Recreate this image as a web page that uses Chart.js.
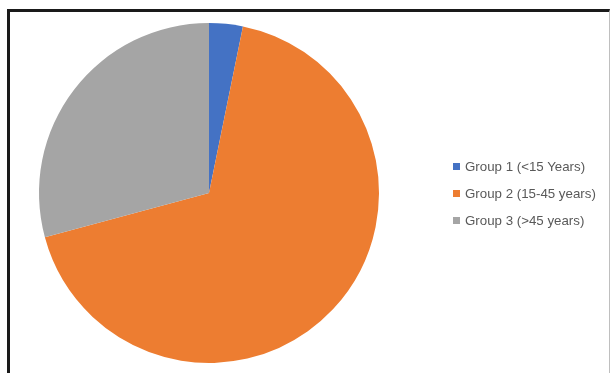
<!DOCTYPE html>
<html>
<head>
<meta charset="utf-8">
<script src="https://cdn.jsdelivr.net/npm/chart.js@4/dist/chart.umd.min.js"></script>
<style>
  html, body { margin: 0; padding: 0; background: #fff; }
  body { width: 611px; height: 373px; position: relative; overflow: hidden; }
  #frame {
    position: absolute; left: 7px; top: 9px; width: 599px; height: 400px;
    border-top: 3px solid #1a1a1a; border-left: 3px solid #1a1a1a; border-right: 1px solid #bfbfbf;
  }
  #chartWrap { position: absolute; left: 0; top: 0; width: 611px; height: 373px; }
  #legend {
    position: absolute; left: 453px; top: 158px; margin: 0; padding: 0; list-style: none;
    font-family: "Liberation Sans", Arial, sans-serif; font-size: 13.3px; color: #595959;
  }
  #legend li { height: 27px; line-height: 18px; white-space: nowrap; }
  #legend span.box { display: inline-block; width: 7px; height: 7px; margin-right: 5px; vertical-align: 1px; }
</style>
</head>
<body>
<div id="frame"></div>
<div id="chartWrap"><canvas id="pieChart" width="611" height="373"></canvas></div>
<ul id="legend"></ul>
<script>
const labels = ["Group 1 (<15 Years)", "Group 2 (15-45 years)", "Group 3 (>45 years)"];
const shares = [3.2, 67.6, 29.2];
const colors = ["#4472C4", "#ED7D31", "#A5A5A5"];

const legend = document.querySelector("#legend");
legend.innerHTML = labels
  .map((label, i) => `<li><span class="box" style="background:${colors[i]}"></span>${label.replace(/</g, "&lt;").replace(/>/g, "&gt;")}</li>`)
  .join("");

new Chart(document.querySelector("#pieChart"), {
  type: "pie",
  data: {
    labels,
    datasets: [
      {
        data: shares,
        backgroundColor: colors,
        borderWidth: 0,
      },
    ],
  },
  options: {
    responsive: false,
    animation: false,
    layout: {
      padding: { top: 23, bottom: 10, left: 39, right: 232 },
    },
    plugins: {
      legend: { display: false },
      tooltip: { enabled: false },
    },
  },
});
</script>
</body>
</html>
